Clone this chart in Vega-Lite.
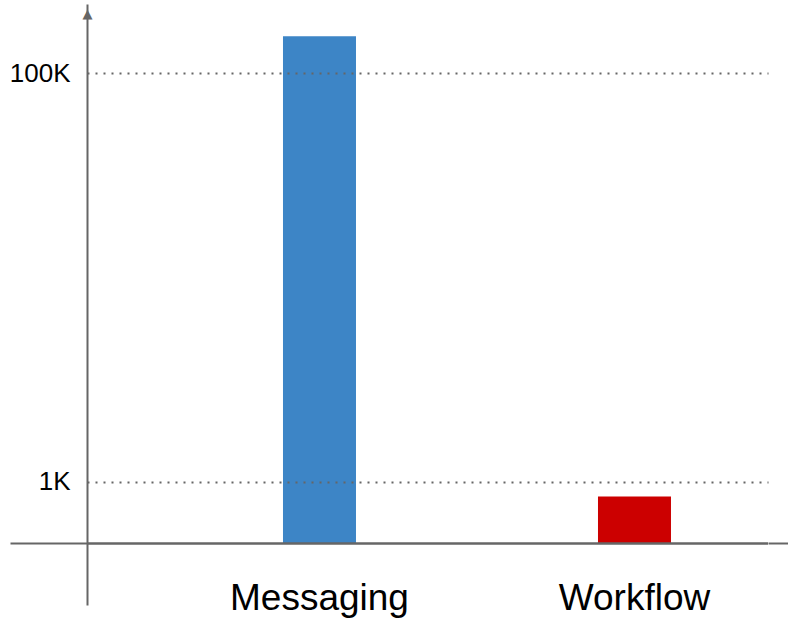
{
  "$schema": "https://vega.github.io/schema/vega-lite/v6.json",
  "width": 681,
  "height": 601,
  "autosize": {"type": "none"},
  "padding": {"left": 87, "top": 4, "right": 20, "bottom": 15},
  "background": "white",
  "config": {"view": {"stroke": null}, "font": "Liberation Sans"},
  "data": {
    "values": [
      {"category": "Messaging", "value": 152000},
      {"category": "Workflow", "value": 850}
    ]
  },
  "layer": [
    {
      "mark": {"type": "bar"},
      "encoding": {
        "x": {
          "field": "category",
          "type": "nominal",
          "sort": null,
          "scale": {"type": "band", "paddingInner": 0.76825, "paddingOuter": 0.46508, "align": 0.6689, "round": false},
          "axis": {
            "title": null,
            "domain": false,
            "ticks": false,
            "labelFontSize": 37,
            "labelColor": "#000000",
            "labelFont": "Liberation Sans",
            "labelBaseline": "alphabetic",
            "labelPadding": 4,
            "labelAngle": 0
          }
        },
        "y": {
          "field": "value",
          "type": "quantitative",
          "scale": {"type": "log", "domain": [250, 218300], "nice": false, "zero": false},
          "axis": {
            "orient": "left",
            "values": [500, 1000, 100000],
            "labelExpr": "datum.value == 1000 ? '1K' : (datum.value == 100000 ? '100K' : '')",
            "labelFontSize": 26,
            "labelFont": "Liberation Sans",
            "labelColor": "#000000",
            "labelPadding": -60,
            "labelBaseline": "middle",
            "tickSize": 77,
            "tickWidth": 2,
            "tickColor": "#666666",
            "tickOpacity": {"condition": {"test": "datum.value == 500", "value": 1}, "value": 0},
            "grid": true,
            "gridColor": "#666666",
            "gridWidth": 2,
            "gridDash": [2, 6],
            "gridOpacity": {"condition": {"test": "datum.value == 500", "value": 0}, "value": 1},
            "domainColor": "#666666",
            "domainWidth": 2,
            "zindex": 1,
            "title": "▲",
            "titleX": 0,
            "titleY": 13,
            "titleAngle": 0,
            "titleAlign": "center",
            "titleBaseline": "alphabetic",
            "titleFontSize": 13,
            "titleFont": "DejaVu Sans",
            "titleFontWeight": "normal",
            "titleColor": "#666666"
          }
        },
        "y2": {"datum": 500},
        "color": {
          "field": "category",
          "type": "nominal",
          "scale": {"domain": ["Messaging", "Workflow"], "range": ["#3d85c6", "#cc0000"]},
          "legend": null
        }
      }
    },
    {
      "mark": {"type": "rule", "color": "#666666", "strokeWidth": 2},
      "encoding": {
        "y": {
          "datum": 500,
          "type": "quantitative",
          "axis": {
            "orient": "right",
            "values": [500],
            "labels": false,
            "domain": false,
            "grid": false,
            "tickSize": 20,
            "tickWidth": 2,
            "tickColor": "#666666",
            "title": null
          }
        }
      }
    }
  ],
  "resolve": {"axis": {"y": "independent"}}
}
